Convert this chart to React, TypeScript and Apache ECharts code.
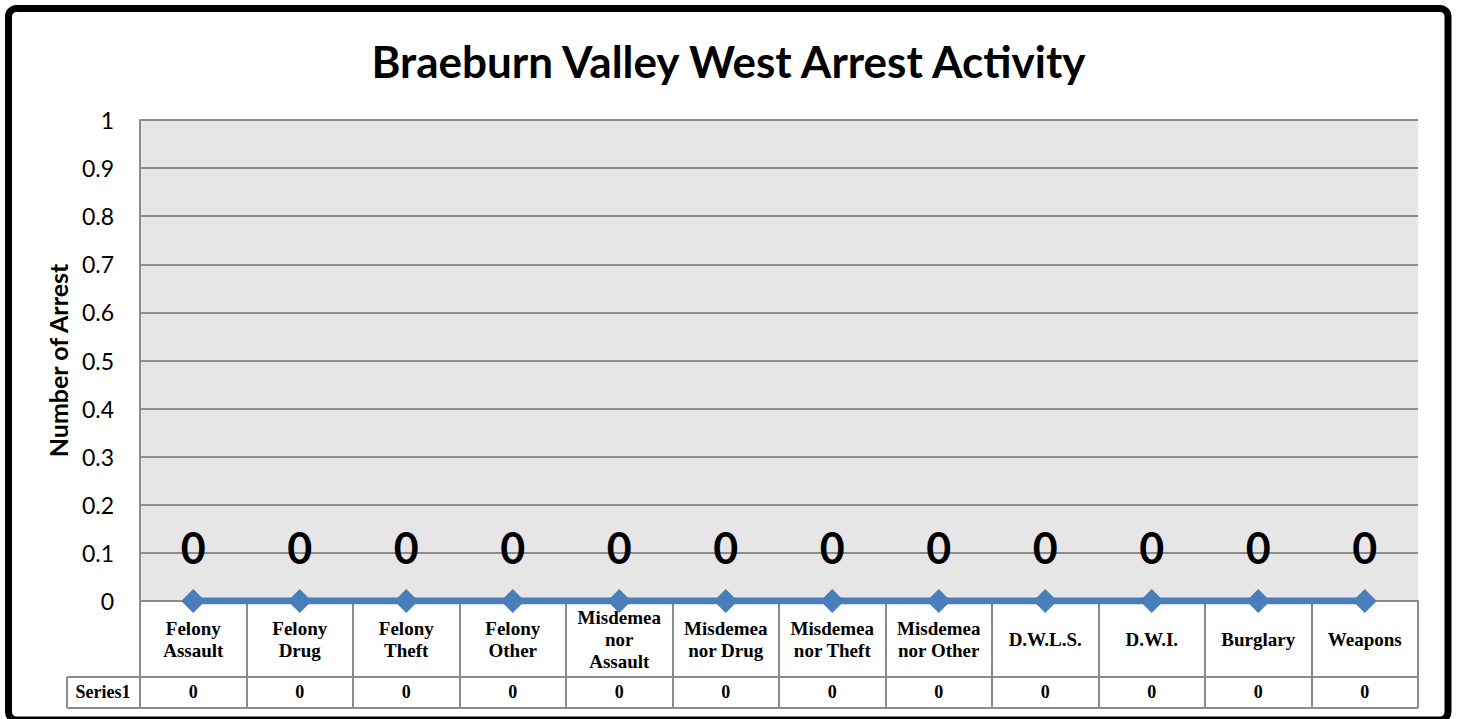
import React, { useEffect, useRef } from "react";
import * as echarts from "echarts";

const title = "Braeburn Valley West Arrest Activity";
const yAxisName = "Number of Arrest";
const seriesName = "Series1";
const categories = [
  "Felony\nAssault",
  "Felony\nDrug",
  "Felony\nTheft",
  "Felony\nOther",
  "Misdemea\nnor\nAssault",
  "Misdemea\nnor Drug",
  "Misdemea\nnor Theft",
  "Misdemea\nnor Other",
  "D.W.L.S.",
  "D.W.I.",
  "Burglary",
  "Weapons",
];
const values = [0, 0, 0, 0, 0, 0, 0, 0, 0, 0, 0, 0];
const yMin = 0;
const yMax = 1;
const yStep = 0.1;

const GRID = "#8c8c8c";
const BLUE = "#4a7ebb";
const SERIF = "'Liberation Serif', serif";
const SANS = "Lato, 'Noto Sans', sans-serif";

export default function App() {
  const ref = useRef<HTMLDivElement>(null);
  useEffect(() => {
    if (!ref.current) return;
    const chart = echarts.init(ref.current, null, { renderer: "svg" });
    chart.setOption({
      animation: false,
      backgroundColor: "#ffffff",
      title: {
        text: title,
        left: "center",
        top: 34,
        textStyle: { fontFamily: SANS, fontWeight: "bold", fontSize: 44, color: "#000" },
      },
      grid: { left: 140, right: 39, top: 120, bottom: 118, backgroundColor: "#e6e6e6", show: true, borderWidth: 0 },
      xAxis: [
        {
          type: "category",
          data: categories,
          boundaryGap: true,
          axisLine: { show: true, lineStyle: { color: GRID, width: 2 } },
          axisTick: { show: true, interval: 0, length: 107, lineStyle: { color: GRID, width: 2 } },
          axisLabel: {
            interval: 0,
            margin: 38,
            verticalAlign: "middle",
            lineHeight: 22,
            fontFamily: SERIF,
            fontWeight: "bold",
            fontSize: 19,
            color: "#000",
          },
        },
        {
          type: "category",
          data: values.map((v) => String(v)),
          position: "bottom",
          offset: 76,
          boundaryGap: true,
          axisLine: { show: false },
          axisTick: { show: false },
          axisLabel: {
            interval: 0,
            margin: 6,
            fontFamily: SERIF,
            fontWeight: "bold",
            fontSize: 18,
            color: "#000",
          },
        },
      ],
      yAxis: {
        type: "value",
        min: yMin,
        max: yMax,
        interval: yStep,
        name: yAxisName,
        nameLocation: "middle",
        nameGap: 70,
        nameRotate: 90,
        nameTextStyle: { fontFamily: SANS, fontWeight: "bold", fontSize: 25, color: "#000" },
        axisLine: { show: true, lineStyle: { color: GRID, width: 2 } },
        axisTick: { show: false },
        splitLine: { show: true, lineStyle: { color: GRID, width: 2 } },
        axisLabel: { margin: 26, fontFamily: SANS, fontSize: 23, color: "#000" },
      },
      series: [
        {
          name: seriesName,
          type: "line",
          data: values,
          symbol: "diamond",
          symbolSize: 24,
          lineStyle: { color: BLUE, width: 7 },
          itemStyle: { color: BLUE },
          label: {
            show: true,
            position: "top",
            distance: 20,
            fontFamily: SANS,
            fontWeight: "bold",
            fontSize: 43,
            color: "#000",
          },
        },
      ],
      graphic: [
        { type: "line", shape: { x1: 67, y1: 677, x2: 1418, y2: 677 }, style: { stroke: GRID, lineWidth: 2 } },
        { type: "line", shape: { x1: 67, y1: 708, x2: 1418, y2: 708 }, style: { stroke: GRID, lineWidth: 2 } },
        { type: "line", shape: { x1: 67, y1: 677, x2: 67, y2: 708 }, style: { stroke: GRID, lineWidth: 2 } },
        {
          type: "text",
          x: 103,
          y: 692,
          style: {
            text: seriesName,
            align: "center",
            verticalAlign: "middle",
            font: `bold 18px ${SERIF}`,
            fill: "#000",
          },
        },
        {
          type: "rect",
          shape: { x: 8.5, y: 8.5, width: 1439.5, height: 711.5, r: 8 },
          style: { fill: "none", stroke: "#000", lineWidth: 7 },
          z: 100,
        },
      ],
    });
    return () => chart.dispose();
  }, []);
  return (
    <div
      ref={ref}
      style={{ position: "fixed", left: 0, top: 0, width: 1457, height: 719 }}
    />
  );
}
